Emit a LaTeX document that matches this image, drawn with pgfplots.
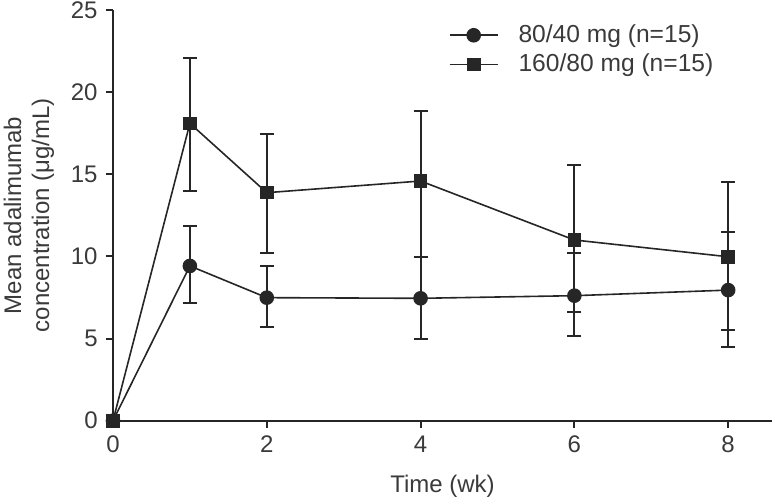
\documentclass[border=0pt]{standalone}
\usepackage{fontspec}
\setmainfont{Liberation Sans}
\usepackage{pgfplots}
\pgfplotsset{compat=1.18}
\definecolor{ink}{HTML}{262626}
\definecolor{txt}{HTML}{3A3A3A}
\begin{document}
\fontsize{12}{14}\selectfont
\begin{tikzpicture}
\begin{axis}[
  name=ax,
  scale only axis, width=329.5pt, height=205.35pt,
  xmin=0, xmax=8.57, ymin=0, ymax=25,
  axis x line*=bottom, axis y line*=left,
  axis line style={ink, line width=1pt},
  xtick={0,2,4,6,8}, ytick={0,5,10,15,20,25},
  tick align=outside, major tick length=3.5pt,
  tick style={ink, line width=1pt},
  tick label style={font=\fontsize{12}{14}\selectfont, text=txt},
  /pgf/number format/assume math mode=true,
  clip=false,
  xlabel={Time (wk)},
  ylabel={Mean adalimumab\\concentration (μg/mL)},
  label style={font=\fontsize{12}{14}\selectfont, text=txt},
  ylabel style={align=center, at={(axis description cs:-0.1275,0.5)}, anchor=center},
  xlabel style={at={(axis description cs:0.5,-0.1607)}, anchor=center},
  legend style={draw=none, fill=none, at={(0.5,0.985)}, anchor=north west,
    font=\fontsize{12.3}{14.5}\selectfont, text=txt, row sep=0pt},
  legend cell align=left,
  legend image code/.code={\draw[mark repeat=2,mark phase=2] plot coordinates {(0pt,0pt)(12pt,0pt)(24pt,0pt)}; \path (32pt,0pt);},
]
\addplot[ink, line width=0.8pt, mark=*, mark size=3.25pt, mark options={fill=ink, draw=ink},
  error bars/.cd, y dir=both, y explicit,
  error bar style={ink, line width=1pt},
  error mark options={rotate=90, mark size=3.5pt, ink, line width=1pt}]
coordinates {
 (0,0)
 (1,9.42) += (0,2.45) -= (0,2.24)
 (2,7.49) += (0,1.91) -= (0,1.77)
 (4,7.45) += (0,2.53) -= (0,2.50)
 (6,7.61) += (0,2.62) -= (0,2.47)
 (8,7.95) += (0,3.55) -= (0,3.46)
};
\addlegendentry{80/40 mg (n=15)}
\addplot[ink, line width=0.8pt, mark=square*, mark size=3pt, mark options={fill=ink, draw=ink},
  error bars/.cd, y dir=both, y explicit,
  error bar style={ink, line width=1pt},
  error mark options={rotate=90, mark size=3.5pt, ink, line width=1pt}]
coordinates {
 (0,0)
 (1,18.10) += (0,3.96) -= (0,4.12)
 (2,13.88) += (0,3.59) -= (0,3.69)
 (4,14.59) += (0,4.26) -= (0,4.61)
 (6,11.00) += (0,4.56) -= (0,4.40)
 (8,9.98) += (0,4.53) -= (0,4.46)
};
\addlegendentry{160/80 mg (n=15)}
\end{axis}
\pgfresetboundingbox
\path ([xshift=-56.5pt,yshift=-41.15pt]ax.south west) rectangle ([xshift=1.5pt,yshift=5pt]ax.north east);
\end{tikzpicture}
\end{document}
